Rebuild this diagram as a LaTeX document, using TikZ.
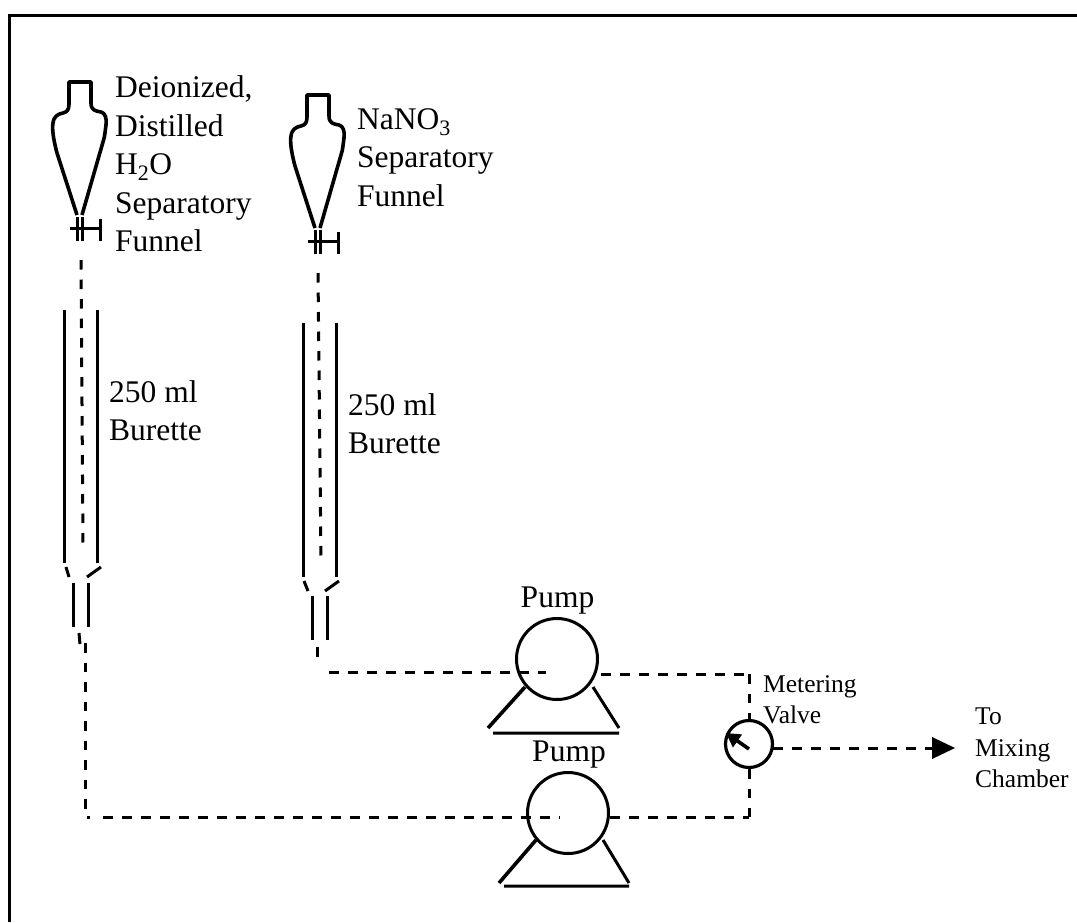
\documentclass[tikz,border=0pt]{standalone}
\usepackage{fontspec}
\setmainfont{Liberation Serif}
\usetikzlibrary{arrows.meta}
\tikzset{
 ln/.style={line width=3pt,black},
 thickln/.style={line width=3.6pt,black},
 dshh/.style={line width=3pt,black,dash pattern=on 9.5pt off 9.5pt},
 dshv/.style={line width=3pt,black,dash pattern=on 9.5pt off 10pt},
 lab/.style={font=\fontsize{31.5}{38.5}\selectfont,align=left,anchor=north west,inner sep=0pt,text=black},
 labsmall/.style={font=\fontsize{25.5}{31.5}\selectfont,align=left,anchor=north west,inner sep=0pt,text=black},
 pumplab/.style={font=\fontsize{31.5}{38}\selectfont,anchor=base,inner sep=0pt,text=black},
 pumpc/.style={circle,draw,line width=3pt,minimum size=81pt,inner sep=0pt},
 valvec/.style={circle,draw,line width=3.2pt,minimum size=47pt,inner sep=0pt},
}
\newcommand{\funnel}[2]{
\begin{scope}[shift={(#1,#2)}]
 \draw[thickln,line join=round] (77,215) -- (57,153) .. controls (53,138) and (52,128) .. (53,123) .. controls (54,116) and (58,114) .. (63,113) .. controls (67,112) and (69,110) .. (69,104) -- (69,82) -- (91,82) -- (91,103) .. controls (91,110) and (95,111) .. (101,112) .. controls (105,113) and (107,118) .. (106,125) .. controls (105,132) and (105,136) .. (103,142) -- (82,215);
 \draw[ln] (70,228) -- (101,228);
 \draw[ln] (77,217) -- (77,241);
 \draw[ln] (82,217) -- (82,241);
 \draw[ln] (100,219) -- (100,241);
\end{scope}}
\begin{document}
\begin{tikzpicture}[x=1pt,y=-1pt]
\useasboundingbox (0,0) rectangle (1077,922);
\fill[white] (0,0) rectangle (1077,922);
\draw[line width=3pt] (9,922) -- (9,15) -- (1077,15);
\funnel{0}{0}
\funnel{238}{13}
\node[lab] (t1) at (115,75.5) {Deionized,\\Distilled\\H\textsubscript{2}O\\Separatory\\Funnel};
\node[lab] (t2) at (357,108) {NaNO\textsubscript{3}\\Separatory\\Funnel};
\node[lab] (b1) at (109,380) {250 ml\\Burette};
\node[lab] (b2) at (348,393) {250 ml\\Burette};
% burettes
\draw[ln] (64,310) -- (64,563) (97,310) -- (97,563);
\draw[ln] (66,567) -- (69,577) (87,577) -- (101,567);
\draw[ln] (73,583) -- (73,627) (88,583) -- (88,627);
\draw[ln] (303,323) -- (303,577) (336,323) -- (336,577);
\draw[ln] (304,581) -- (308,591) (325,591) -- (339,581);
\draw[ln] (312,596) -- (312,640) (327,596) -- (327,640);
% pumps
\node[pumpc] (p1) at (557,659) {};
\node[pumpc] (p2) at (568,813) {};
\node[valvec] (v) at (749,744) {};
\node[pumplab] (pl1) at (557.5,607) {Pump};
\node[pumplab] (pl2) at (569,761) {Pump};
\draw[thickln] (525,687) -- (488,728);
\draw[ln] (593,687) -- (619,728) (493,733) -- (619,733);
\draw[thickln] (536,840) -- (499,883);
\draw[ln] (603,840) -- (629,883) (504,886) -- (629,886);
% lines
\coordinate (d1a) at (81,260); \coordinate (d1b) at (83,548);
\coordinate (d2a) at (318,273); \coordinate (d2b) at (321,561);
\draw[dshv] (d1a) -- (d1b);
\draw[dshv] (d2a) -- (d2b);
\coordinate (s1a) at (79,633); \coordinate (s1b) at (80,644);
\draw[ln] (s1a) -- (s1b);
\coordinate (s2a) at (317,647); \coordinate (s2b) at (317,657);
\draw[ln] (s2a) -- (s2b);
\coordinate (j1) at (85,643); \coordinate (j2) at (85,817);
\coordinate (jh) at (90,817);
\coordinate (pi2) at (560,817);
\draw[dshv] (j1) -- (j2) -- (jh);
\draw[dshh] (jh) ++(13,0) -- (pi2);
\coordinate (k1) at (329,672); \coordinate (pi1) at (546,672);
\draw[dshh] (k1) -- (pi1);
\coordinate (e1) at (601,674); \coordinate (c1) at (749,674);
\coordinate (e2) at (610,817); \coordinate (c2) at (749,817);
\draw[dshh] (e1) -- (c1);
\draw[dshh] (e2) -- (c2);
\draw[dshv] (c1) -- (v.north);
\draw[dshv] (v.south) -- (c2);
\coordinate (tip) at (955,748);
\coordinate (vo) at (773,748);
\draw[dshh] (vo) -- (934,748);
\fill (932,737) -- (tip) -- (932,759) -- cycle;
\draw[line width=3.6pt,-{Triangle[length=14pt,width=15pt]}] (749,749) -- (726,733);
\node[labsmall] (mv) at (763,675) {Metering\\Valve};
\node[labsmall] (mc) at (975,708) {To\\Mixing\\Chamber};
\end{tikzpicture}
\end{document}
